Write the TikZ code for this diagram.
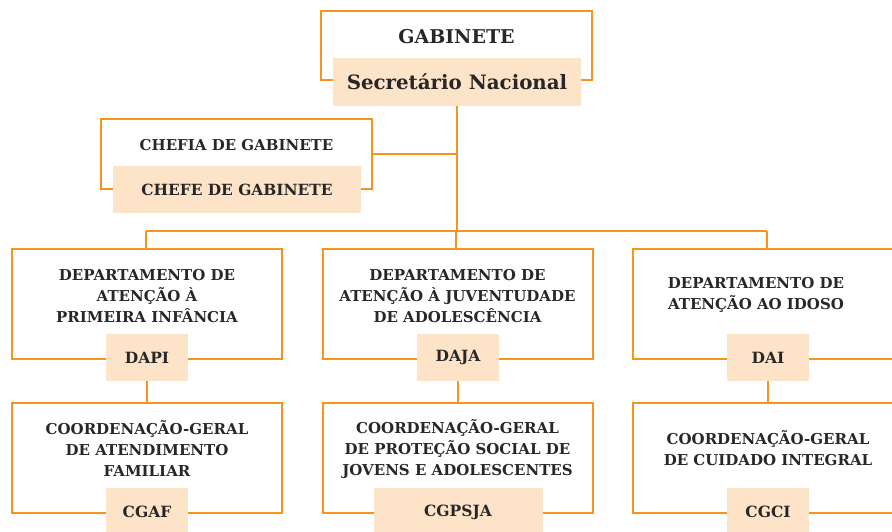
\documentclass[tikz,border=0pt]{standalone}
\usepackage{fontspec}
\setmainfont{DejaVu Serif}
\definecolor{org}{RGB}{247,148,30}
\definecolor{peach}{RGB}{253,228,200}
\definecolor{ink}{RGB}{40,38,38}
\begin{document}
\begin{tikzpicture}[x=1pt,y=-1pt,
  obox/.style={draw=org,line width=2pt,inner sep=0pt},
  fbox/.style={fill=peach,inner sep=0pt,text=ink,font=\bfseries\fontsize{15.5}{18}\selectfont},
  lbl/.style={text=ink,align=center,inner sep=0pt,font=\bfseries\fontsize{15}{21}\selectfont},
  conn/.style={draw=org,line width=2pt}]
\useasboundingbox (0,0) rectangle (892,532);
% outlines
\node[obox,minimum width=271,minimum height=69] (gab) at (456.5,45.5) {};
\node[obox,minimum width=271,minimum height=70] (chefia) at (236.5,154) {};
\node[obox,minimum width=270,minimum height=110] (d1) at (147,304) {};
\node[obox,minimum width=270,minimum height=110] (d2) at (457.5,304) {};
\node[obox,minimum width=270,minimum height=110] (d3) at (768,304) {};
\node[obox,minimum width=270,minimum height=110] (c1) at (147,458) {};
\node[obox,minimum width=270,minimum height=110] (c2) at (457.5,458) {};
\node[obox,minimum width=270,minimum height=110] (c3) at (768,458) {};
% bus
\coordinate (busM) at (456,231);
\coordinate (busL) at (146,231);
\coordinate (busR) at (767,231);
% fill boxes
\node[fbox,minimum width=248,minimum height=48,font=\bfseries\fontsize{19.8}{24}\selectfont] (sec) at (457,82) {Secretário Nacional};
\node[fbox,minimum width=248,minimum height=47,font=\bfseries\fontsize{15.4}{18}\selectfont] (chefe) at (237,189.5) {CHEFE DE GABINETE};
\node[fbox,minimum width=82,minimum height=47] (dapi) at (147,357.5) {DAPI};
\node[fbox,minimum width=82,minimum height=47] (daja) at (458,357.5) {DAJA};
\node[fbox,minimum width=82,minimum height=47] (dai) at (768,357.5) {DAI};
\node[fbox,minimum width=82,minimum height=48] (cgaf) at (147,512) {CGAF};
\node[fbox,minimum width=169,minimum height=48] (cgpsja) at (458,512) {CGPSJA};
\node[fbox,minimum width=82,minimum height=48] (cgci) at (768,512) {CGCI};
% connectors
\draw[conn] (sec.south) -- (sec.south |- busM);
\draw[conn] (chefia.east) -- (chefia.east -| sec.south);
\draw[conn] (busL) -- (busR);
\draw[conn] (busL) -- (busL |- d1.north);
\draw[conn] (busM) -- (busM |- d2.north);
\draw[conn] (busR) -- (busR |- d3.north);
\draw[conn] (dapi.south) -- (dapi.south |- c1.north);
\draw[conn] (daja.south) -- (daja.south |- c2.north);
\draw[conn] (dai.south) -- (dai.south |- c3.north);
% labels
\node[lbl,font=\bfseries\fontsize{19}{23}\selectfont] (gabt) at (456.5,37) {GABINETE};
\node[lbl] (chefiat) at (236.5,145) {CHEFIA DE GABINETE};
\node[lbl] (d1t) at (147,296) {DEPARTAMENTO DE\\ATENÇÃO À\\PRIMEIRA INFÂNCIA};
\node[lbl] (d2t) at (457.5,296) {DEPARTAMENTO DE\\ATENÇÃO À JUVENTUDADE\\DE ADOLESCÊNCIA};
\node[lbl] (d3t) at (756,295) {DEPARTAMENTO DE\\ATENÇÃO AO IDOSO};
\node[lbl] (c1t) at (147,449) {COORDENAÇÃO-GERAL\\DE ATENDIMENTO\\FAMILIAR};
\node[lbl] (c2t) at (457.5,449) {COORDENAÇÃO-GERAL\\DE PROTEÇÃO SOCIAL DE\\JOVENS E ADOLESCENTES};
\node[lbl] (c3t) at (768,448.5) {COORDENAÇÃO-GERAL\\DE CUIDADO INTEGRAL};
\end{tikzpicture}
\end{document}
